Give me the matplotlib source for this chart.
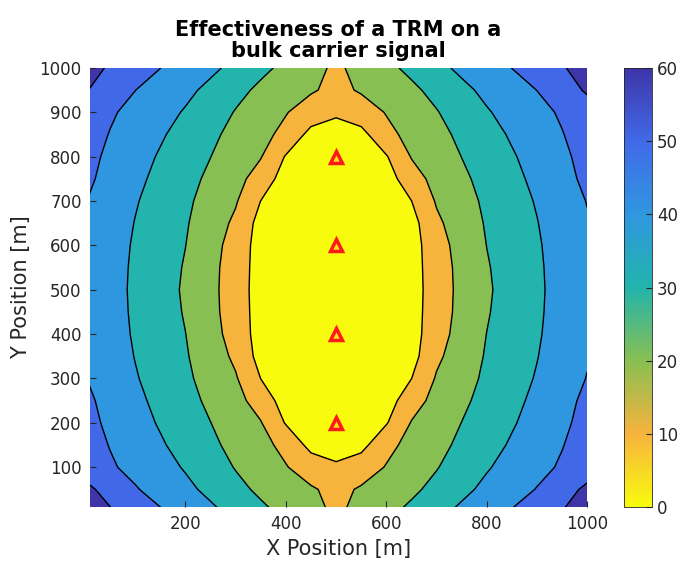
import numpy as np
import matplotlib; matplotlib.use("Agg")
import matplotlib.pyplot as plt
from matplotlib.colors import LinearSegmentedColormap, Normalize
from matplotlib.cm import ScalarMappable

# grid positions (m)
x_pos = [0, 50, 100, 150, 200, 250, 300, 350, 400, 450, 500,
         550, 600, 650, 700, 750, 800, 850, 900, 950, 1000]
y_pos = [0, 50, 100, 150, 200, 250, 300, 350, 400, 450, 500,
         550, 600, 650, 700, 750, 800, 850, 900, 950, 1000]

# effectiveness values, rows = y_pos, cols = x_pos
Z = [
 [65.5, 61.0, 55.5, 51.0, 46.0, 42.0, 37.4, 32.1, 27.9, 24.5, 17.5, 24.5, 27.9, 32.1, 37.4, 42.0, 46.0, 50.6, 54.8, 60.0, 64.5],
 [62.5, 56.5, 50.8, 46.1, 42.2, 37.7, 32.6, 28.2, 24.6, 21.0, 17.5, 21.0, 24.6, 28.2, 32.6, 37.7, 42.2, 46.1, 50.4, 56.0, 62.0],
 [55.8, 51.2, 47.2, 43.3, 39.2, 34.4, 29.5, 25.0, 20.5, 15.5, 10.5, 15.5, 20.5, 25.0, 29.5, 34.4, 39.2, 43.3, 47.2, 51.2, 55.2],
 [54.5, 49.6, 45.3, 41.1, 36.5, 31.9, 27.3, 22.7, 17.5,  7.0,  8.5,  7.0, 17.5, 22.7, 27.3, 31.9, 36.5, 41.1, 45.3, 49.6, 54.5],
 [53.0, 48.2, 43.6, 39.1, 34.5, 30.1, 25.2, 20.5,  9.3,  7.8,  6.5,  7.8,  9.3, 20.5, 25.2, 30.1, 34.5, 39.1, 43.6, 48.2, 53.0],
 [52.0, 47.1, 42.2, 37.5, 33.0, 28.2, 23.1, 15.8,  5.5,  5.2,  5.0,  5.2,  5.5, 15.8, 23.1, 28.2, 33.0, 37.5, 42.2, 47.1, 52.0],
 [50.3, 45.8, 40.7, 36.2, 31.7, 26.5, 20.9,  9.9,  7.0,  5.5,  4.0,  5.5,  7.0,  9.9, 20.9, 26.5, 31.7, 36.2, 40.7, 45.8, 50.3],
 [49.3, 44.8, 39.7, 35.3, 30.8, 25.1, 18.1,  6.5,  5.3,  4.2,  3.0,  4.2,  5.3,  6.5, 18.1, 25.1, 30.8, 35.3, 39.7, 44.8, 49.3],
 [49.2, 44.0, 39.0, 34.6, 30.1, 23.8, 15.8,  6.0,  4.7,  3.3,  2.0,  3.3,  4.7,  6.0, 15.8, 23.8, 30.1, 34.6, 39.0, 44.0, 49.2],
 [48.7, 43.6, 38.6, 34.0, 29.3, 23.0, 14.8,  6.2,  4.4,  2.6,  1.0,  2.6,  4.4,  6.2, 14.8, 23.0, 29.3, 34.0, 38.6, 43.6, 48.7],
 [48.6, 43.4, 38.4, 33.7, 28.8, 22.7, 14.6,  6.0,  4.0,  2.0,  0.0,  2.0,  4.0,  6.0, 14.6, 22.7, 28.8, 33.7, 38.4, 43.4, 48.6],
 [48.7, 43.6, 38.6, 34.0, 29.3, 23.0, 14.8,  6.2,  4.4,  2.6,  1.0,  2.6,  4.4,  6.2, 14.8, 23.0, 29.3, 34.0, 38.6, 43.6, 48.7],
 [49.2, 44.0, 39.0, 34.6, 30.1, 23.8, 15.8,  6.0,  4.7,  3.3,  2.0,  3.3,  4.7,  6.0, 15.8, 23.8, 30.1, 34.6, 39.0, 44.0, 49.2],
 [49.3, 44.8, 39.7, 35.3, 30.8, 25.1, 18.1,  6.5,  5.3,  4.2,  3.0,  4.2,  5.3,  6.5, 18.1, 25.1, 30.8, 35.3, 39.7, 44.8, 49.3],
 [50.3, 45.8, 40.7, 36.2, 31.7, 26.5, 20.9,  9.9,  7.0,  5.5,  4.0,  5.5,  7.0,  9.9, 20.9, 26.5, 31.7, 36.2, 40.7, 45.8, 50.3],
 [52.0, 47.1, 42.2, 37.5, 33.0, 28.2, 23.1, 15.8,  5.5,  5.2,  5.0,  5.2,  5.5, 15.8, 23.1, 28.2, 33.0, 37.5, 42.2, 47.1, 52.0],
 [53.0, 48.2, 43.6, 39.1, 34.5, 30.1, 25.2, 20.5,  9.3,  7.8,  6.5,  7.8,  9.3, 20.5, 25.2, 30.1, 34.5, 39.1, 43.6, 48.2, 53.0],
 [54.5, 49.6, 45.3, 41.1, 36.5, 31.9, 27.3, 22.7, 17.5,  7.0,  8.5,  7.0, 17.5, 22.7, 27.3, 31.9, 36.5, 41.1, 45.3, 49.6, 54.5],
 [55.2, 51.2, 47.2, 43.3, 39.2, 34.4, 29.5, 25.0, 20.5, 15.5, 10.5, 15.5, 20.5, 25.0, 29.5, 34.4, 39.2, 43.3, 47.2, 51.2, 55.8],
 [60.8, 55.0, 50.1, 46.1, 42.2, 37.7, 32.6, 28.2, 24.6, 21.0, 17.5, 21.0, 24.6, 28.2, 32.6, 37.7, 42.2, 46.1, 50.1, 55.6, 61.2],
 [63.5, 59.0, 54.2, 50.1, 46.0, 42.0, 37.4, 32.1, 27.9, 24.5, 17.5, 24.5, 27.9, 32.1, 37.4, 42.0, 46.0, 50.1, 54.2, 59.2, 64.0],
]

levels = [0, 10, 20, 30, 40, 50, 60, 70]
tx_x = [500, 500, 500, 500]
tx_y = [200, 400, 600, 800]

# reversed parula-like colours at 0,10,...,60
anchors = ["#F9FB0E", "#F6B33E", "#88BF52", "#22B4AC", "#2F97DF", "#416AE8", "#3D35A8"]
cmap = LinearSegmentedColormap.from_list("parula_r", anchors)
fill_cols = [cmap(v / 60) for v in levels[:-1]]

fig = plt.figure(figsize=(6.82, 5.61), dpi=100)
ax = fig.add_axes([0.132, 0.096, 0.729, 0.783])
cax = fig.add_axes([0.915, 0.096, 0.041, 0.783])

ax.contourf(x_pos, y_pos, Z, levels=levels, colors=fill_cols)
ax.contour(x_pos, y_pos, Z, levels=levels[1:-1], colors="k", linewidths=1.0)
ax.plot(tx_x, tx_y, linestyle="none", marker="^", markersize=8,
        markerfacecolor="#F9E21A", markeredgecolor="#FF1A1A", markeredgewidth=2.5)

ax.set_xlim(10, 1000); ax.set_ylim(10, 1000)
ax.set_xticks([200, 400, 600, 800, 1000])
ax.set_yticks(range(100, 1001, 100))
ax.tick_params(direction="in", length=4, labelsize=12, colors="#262626", pad=6)
for s in ax.spines.values():
    s.set_visible(False)
ax.set_xlabel("X Position [m]", fontsize=15, color="#262626", labelpad=4)
ax.set_ylabel("Y Position [m]", fontsize=15, color="#262626", labelpad=6)
ax.set_title("Effectiveness of a TRM on a\nbulk carrier signal", fontsize=15,
             fontweight="bold", pad=8, linespacing=1.05)

cb = fig.colorbar(ScalarMappable(norm=Normalize(0, 60), cmap=cmap), cax=cax)
cb.set_ticks([0, 10, 20, 30, 40, 50, 60])
cb.ax.tick_params(direction="in", length=4, labelsize=12, colors="#262626")
cb.outline.set_edgecolor("#262626"); cb.outline.set_linewidth(0.6)

fig.savefig("out.png", dpi=100)
